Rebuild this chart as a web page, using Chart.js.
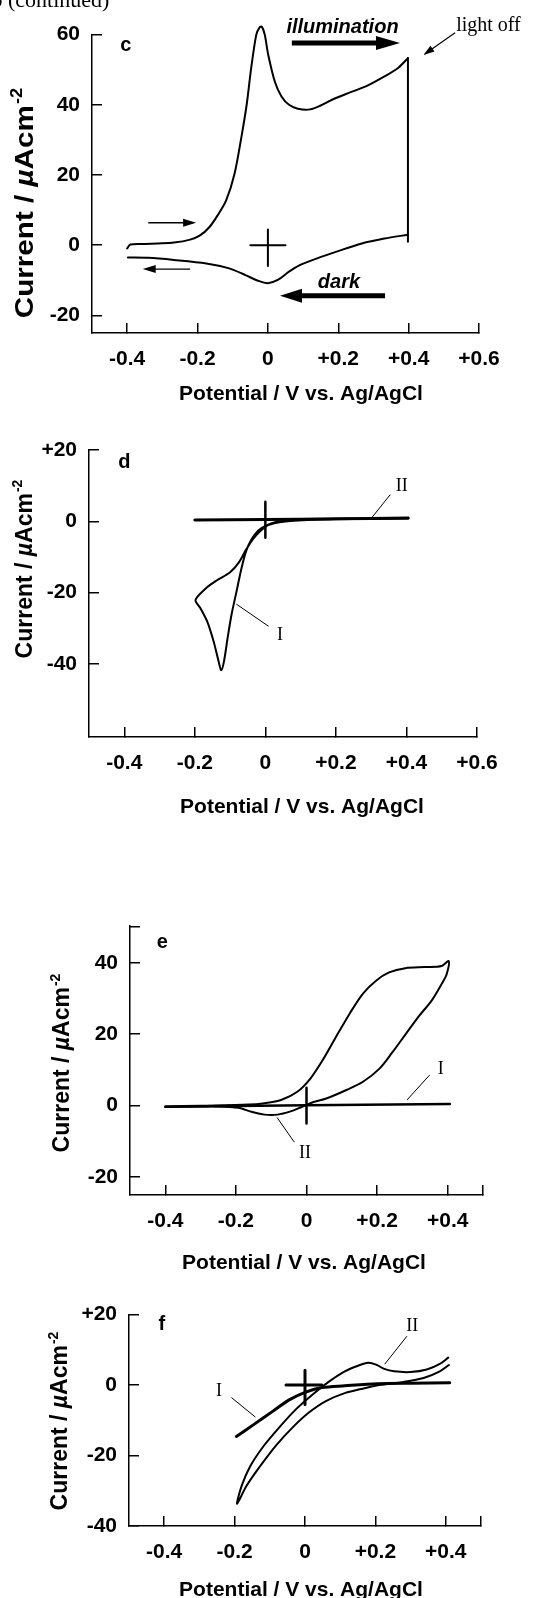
<!DOCTYPE html>
<html>
<head>
<meta charset="utf-8">
<script src="https://cdn.jsdelivr.net/npm/chart.js@4"></script>
<style>
html,body{margin:0;padding:0;background:#fff;}
#wrap{position:relative;width:533px;height:1598px;overflow:hidden;background:#fff;}
#wrap canvas{position:absolute;left:0;}
</style>
</head>
<body>
<div id="wrap">
  <canvas id="pc" width="533" height="410" style="top:0"></canvas>
  <canvas id="pd" width="533" height="410" style="top:410px"></canvas>
  <canvas id="pe" width="533" height="460" style="top:820px"></canvas>
  <canvas id="pf" width="533" height="318" style="top:1280px"></canvas>
</div>
<script>
// ---- panel c : illumination / dark sweep
const cFwdX = [-0.4, -0.391, -0.35, -0.313, -0.267, -0.221, -0.193, -0.166, -0.143, -0.119, -0.095, -0.074, -0.06, -0.0475, -0.033, -0.024, -0.0176, -0.009, 0.001, 0.02, 0.039, 0.06, 0.085, 0.12, 0.15, 0.19, 0.23, 0.28, 0.33, 0.37, 0.398];
const cFwdY = [-0.9, 0.2, 0.35, 0.5, 0.75, 1.6, 2.8, 5.2, 8.5, 12.7, 20.3, 31.6, 40.3, 50.5, 60, 62, 62.3, 60, 54.2, 46.5, 42.3, 40, 38.9, 38.7, 39.8, 41.8, 43.4, 45.3, 48, 50.5, 53.3];
const cDropX = [0.398, 0.398];
const cDropY = [53.3, 1.0];
const cRevX = [0.398, 0.331, 0.267, 0.193, 0.138, 0.092, 0.06, 0.028, 0.0, -0.028, -0.064, -0.11, -0.175, -0.267, -0.34, -0.398];
const cRevY = [3.0, 1.9, 0.5, -1.9, -3.8, -5.6, -7.5, -9.9, -10.8, -10.1, -8.5, -6.6, -5.2, -4.2, -3.6, -3.5];
const cCrossHX = [-0.05, 0.05], cCrossHY = [0, 0];
const cCrossVX = [0, 0], cCrossVY = [4.5, -5.9];
const cXTicks = [-0.4, -0.2, 0, 0.2, 0.4, 0.6];
const cXLabels = ['-0.4', '-0.2', '0', '+0.2', '+0.4', '+0.6'];
const cYTicks = [-20, 0, 20, 40, 60];
const cYLabels = ['-20', '0', '20', '40', '60'];
const cArrowIllum = [[0.068, 57.6], [0.3755, 57.6]];
const cArrowDark = [[0.333, -14.4], [0.0344, -14.4]];
const cArrowFwd = [[-0.34, 6.4], [-0.204, 6.4]];
const cArrowRev = [[-0.221, -6.8], [-0.356, -6.8]];
const cArrowOff = [[0.532, 60.5], [0.442, 54.2]];

// ---- panel d
const dIX = [0.405, 0.3, 0.2, 0.12, 0.07, 0.04, 0.02, 0.005, -0.015, -0.035, -0.055, -0.075, -0.1, -0.138, -0.17, -0.198, -0.184, -0.165, -0.147, -0.133, -0.125, -0.117, -0.107, -0.096, -0.082, -0.068, -0.055, -0.04, -0.02, 0.0, 0.03, 0.076, 0.15, 0.3, 0.405];
const dIY = [0.8, 0.7, 0.6, 0.4, 0.1, -0.3, -0.7, -1.2, -2.8, -5.0, -8.0, -11.5, -14.3, -16.6, -18.9, -22.1, -24.4, -28.1, -33.6, -39.1, -41.8, -39.1, -32.7, -26.2, -19.8, -13.3, -8.5, -5.2, -2.6, -1.3, -0.2, 0.3, 0.6, 0.8, 0.9];
const dIIX = [-0.2, 0.0, 0.2, 0.405];
const dIIY = [0.4, 0.5, 0.7, 0.9];
const dCrossVX = [0, 0], dCrossVY = [5.5, -4.6];
const dPtrI = [[0.0084, -29.4], [-0.0812, -23.3]];
const dPtrII = [[0.3534, 7.4], [0.304, 1.3]];
const dXTicks = [-0.4, -0.2, 0, 0.2, 0.4, 0.6];
const dXLabels = ['-0.4', '-0.2', '0', '+0.2', '+0.4', '+0.6'];
const dYTicks = [-40, -20, 0, 20];
const dYLabels = ['-40', '-20', '0', '+20'];

// ---- panel e
const eIX = [-0.4, 0.0, 0.406];
const eIY = [-0.3, 0.1, 0.5];
const eIIX = [-0.4, -0.3, -0.258, -0.193, -0.156, -0.119, -0.082, -0.045, -0.017, 0.011, 0.058, 0.113, 0.16, 0.206, 0.243, 0.28, 0.318, 0.355, 0.383, 0.397, 0.403, 0.383, 0.336, 0.28, 0.234, 0.197, 0.16, 0.123, 0.085, 0.048, 0.011, -0.026, -0.072, -0.119, -0.165, -0.3, -0.4];
const eIIY = [-0.3, -0.25, -0.2, -0.6, -1.7, -2.5, -2.5, -1.6, -0.5, 0.7, 2.1, 4.4, 6.7, 10.3, 14.9, 19.9, 25.0, 29.5, 34.1, 36.8, 40.5, 39.1, 38.8, 38.5, 37.3, 35.0, 31.4, 25.9, 19.5, 13.1, 7.6, 3.9, 1.6, 0.7, 0.3, 0.0, -0.2];
const eCrossVX = [0, 0], eCrossVY = [5, -5];
const ePtrI = [[0.348, 8.5], [0.2856, 1.7]];
const ePtrII = [[-0.0354, -10.1], [-0.0827, -3.4]];
const eXTicks = [-0.4, -0.2, 0, 0.2, 0.4, 0.5];
const eXLabels = ['-0.4', '-0.2', '0', '+0.2', '+0.4', ''];
const eYTicks = [-20, 0, 20, 40, 50];
const eYLabels = ['-20', '0', '20', '40', ''];

// ---- panel f
const fIX = [-0.195, -0.147, -0.091, -0.045, 0.002, 0.048, 0.113, 0.207, 0.3, 0.411];
const fIY = [-14.6, -11.3, -7.4, -4.2, -2.0, -0.7, -0.2, 0.4, 0.55, 0.65];
const fIIX = [0.407, 0.383, 0.346, 0.3, 0.253, 0.225, 0.202, 0.179, 0.151, 0.113, 0.067, 0.02, -0.026, -0.073, -0.119, -0.156, -0.18, -0.193, -0.166, -0.128, -0.082, -0.035, 0.011, 0.058, 0.113, 0.169, 0.21, 0.281, 0.337, 0.383, 0.409];
const fIIY = [7.8, 6.0, 4.4, 3.7, 3.9, 4.6, 5.8, 6.3, 5.5, 3.9, 0.9, -2.8, -6.9, -12.0, -17.5, -23.1, -28.6, -33.7, -28.6, -23.1, -17.1, -12.0, -7.8, -4.6, -2.3, -0.9, 0, 0.9, 2.0, 3.9, 5.7];
const fCrossHX = [-0.054, 0.048], fCrossHY = [0, 0];
const fCrossVX = [0, 0], fCrossVY = [4.2, -5.5];
const fPtrI = [[-0.2083, -3.6], [-0.142, -9.0]];
const fPtrII = [[0.289, 13.8], [0.227, 6.0]];
const fXTicks = [-0.4, -0.2, 0, 0.2, 0.4, 0.5];
const fXLabels = ['-0.4', '-0.2', '0', '+0.2', '+0.4', ''];
const fYTicks = [-40, -20, 0, 20];
const fYLabels = ['-40', '-20', '0', '+20'];

const FAM = '"Liberation Sans", Arial, Helvetica, sans-serif';
const SERIF = '"Liberation Serif", "Times New Roman", serif';

function line(xs, ys, w, t){
    return { data: xs.map((x,i)=>({x, y: ys[i]})), showLine:true, borderColor:'#000', borderWidth:w,
        pointRadius:0, tension:t||0, borderCapStyle:'round', borderJoinStyle:'round', fill:false, clip:false };
}
function seg(p, w){ return line([p[0][0], p[1][0]], [p[0][1], p[1][1]], w, 0); }

// annotations per canvas (arrows, free text, axis titles)
const ANNOT = {
    pc: {
        header: true,
        arrows: [
            { p: cArrowIllum, w: 5, hl: 24, hw: 7 },
            { p: cArrowDark, w: 5, hl: 22, hw: 7 },
            { p: cArrowFwd, w: 1.3, hl: 13, hw: 4 },
            { p: cArrowRev, w: 1.3, hl: 13, hw: 4 },
            { p: cArrowOff, w: 1.2, hl: 11, hw: 3.5 }
        ],
        texts: [
            { s:'illumination', x:0.212, y:62.1, font:`italic bold 20px ${FAM}` },
            { s:'dark', x:0.202, y:-10.6, font:`italic bold 20px ${FAM}` },
            { s:'light off', x:0.535, y:62.5, font:`20px ${SERIF}`, align:'left' },
            { s:'c', x:-0.404, y:57, font:`bold 20px ${FAM}` }
        ],
        yTitle: { x:24, y:203, size:26, stretch:1.14 },
        xTitle: { x:301, y:392, size:21 }
    },
    pd: {
        texts: [
            { s:'d', x:-0.4, y:16.4, font:`bold 20px ${FAM}` },
            { s:'II', x:0.3866, y:9.7, font:`18px ${SERIF}` },
            { s:'I', x:0.0415, y:-31.9, font:`18px ${SERIF}` }
        ],
        yTitle: { x:23.5, y:159, size:23, stretch:1 },
        xTitle: { x:302, y:395, size:21 }
    },
    pe: {
        texts: [
            { s:'e', x:-0.4085, y:45.6, font:`bold 20px ${FAM}` },
            { s:'I', x:0.38, y:10.3, font:`18px ${SERIF}` },
            { s:'II', x:-0.0042, y:-13.4, font:`18px ${SERIF}` }
        ],
        yTitle: { x:61, y:243, size:23, stretch:1 },
        xTitle: { x:304, y:441, size:21 }
    },
    pf: {
        texts: [
            { s:'f', x:-0.407, y:17.1, font:`bold 20px ${FAM}` },
            { s:'II', x:0.3048, y:16.6, font:`18px ${SERIF}` },
            { s:'I', x:-0.2443, y:-1.9, font:`18px ${SERIF}` }
        ],
        yTitle: { x:59, y:141, size:23, stretch:1 },
        xTitle: { x:301, y:308, size:21 }
    }
};

function drawArrow(ctx, x0, y0, x1, y1, w, hl, hw){
    const a = Math.atan2(y1-y0, x1-x0), L = Math.hypot(x1-x0, y1-y0);
    ctx.save();
    ctx.translate(x0, y0); ctx.rotate(a);
    ctx.lineWidth = w; ctx.lineCap = 'butt';
    ctx.beginPath(); ctx.moveTo(0,0); ctx.lineTo(L-hl+1,0); ctx.stroke();
    ctx.beginPath(); ctx.moveTo(L,0); ctx.lineTo(L-hl,-hw); ctx.lineTo(L-hl,hw); ctx.closePath(); ctx.fill();
    ctx.restore();
}

function drawYTitle(ctx, t){
    const s = t.size;
    const parts = [['Current / ', `bold ${s}px ${FAM}`], ['µ', `italic bold ${s}px ${FAM}`], ['Acm', `bold ${s}px ${FAM}`]];
    const sup = `bold ${Math.round(s*0.62)}px ${FAM}`;
    ctx.save();
    ctx.translate(t.x, t.y); ctx.rotate(-Math.PI/2); ctx.scale(t.stretch, 1);
    let w = 0;
    parts.forEach(p=>{ ctx.font = p[1]; w += ctx.measureText(p[0]).width; });
    ctx.font = sup; const sw = ctx.measureText('-2').width;
    let xx = -(w + sw + 1)/2; const base = s*0.36;
    ctx.textAlign = 'left'; ctx.textBaseline = 'alphabetic';
    parts.forEach(p=>{ ctx.font = p[1]; ctx.fillText(p[0], xx, base); xx += ctx.measureText(p[0]).width; });
    ctx.font = sup; ctx.fillText('-2', xx+1, base - s*0.42);
    ctx.restore();
}

const annot = {
    id: 'annot',
    afterDatasetsDraw(chart){
        const o = ANNOT[chart.canvas.id];
        if (!o) return;
        const {ctx} = chart, sx = chart.scales.x, sy = chart.scales.y;
        const px = v => sx.getPixelForValue(v), py = v => sy.getPixelForValue(v);
        ctx.save();
        ctx.fillStyle = '#000'; ctx.strokeStyle = '#000';
        (o.arrows||[]).forEach(a => drawArrow(ctx, px(a.p[0][0]), py(a.p[0][1]), px(a.p[1][0]), py(a.p[1][1]), a.w, a.hl, a.hw));
        (o.texts||[]).forEach(t => {
            ctx.font = t.font; ctx.textAlign = t.align || 'center'; ctx.textBaseline = 'middle';
            ctx.fillText(t.s, px(t.x), py(t.y));
        });
        drawYTitle(ctx, o.yTitle);
        ctx.font = `bold ${o.xTitle.size}px ${FAM}`; ctx.textAlign = 'center'; ctx.textBaseline = 'alphabetic';
        ctx.fillText('Potential / V vs. Ag/AgCl', o.xTitle.x, o.xTitle.y + o.xTitle.size*0.36);
        if (o.header){
            ctx.font = `22px ${SERIF}`; ctx.textAlign = 'left';
            ctx.fillText('b (continued)', -8.5, 7);
        }
        ctx.restore();
    }
};

function axis(min, max, ticks, labels, pad, fit){
    return {
        type:'linear', min, max, afterFit: fit,
        afterBuildTicks: s => { s.ticks = ticks.map(v => ({value:v})); },
        border:{ display:true, color:'#000', width:1.5 },
        grid:{ drawOnChartArea:false, drawTicks:true, tickLength:-10, color:'#000', lineWidth:1.5 },
        ticks:{ autoSkip:false, maxRotation:0, minRotation:0, padding:pad, color:'#000',
            font:{ family:FAM, weight:'bold', size:21 },
            callback: v => { const i = ticks.indexOf(v); return i < 0 ? '' : labels[i]; } }
    };
}

function panel(id, o){
    return new Chart(document.getElementById(id), {
        type:'scatter',
        data:{ datasets:o.sets },
        options:{
            responsive:false, animation:false, events:[],
            layout:{ padding:{ left:0, top:o.top, right:o.right, bottom:0 } },
            plugins:{ legend:{display:false}, tooltip:{enabled:false} },
            scales:{
                x: axis(o.xr[0], o.xr[1], o.xt, o.xl, 24, s => { s.height = o.xH; }),
                y: axis(o.yr[0], o.yr[1], o.yt, o.yl, 22, s => { s.width = o.yW; })
            }
        },
        plugins:[annot]
    });
}

panel('pc', {
    top:31, right:54, xH:77, yW:92, xr:[-0.5,0.6], yr:[-25,60],
    xt:cXTicks, xl:cXLabels, yt:cYTicks, yl:cYLabels,
    sets:[ line(cFwdX, cFwdY, 2, 0.3), line(cDropX, cDropY, 2), line(cRevX, cRevY, 2, 0.3),
        line(cCrossHX, cCrossHY, 2), line(cCrossVX, cCrossVY, 2) ]
});
panel('pd', {
    top:40, right:56, xH:83, yW:89, xr:[-0.5,0.6], yr:[-60.5,20],
    xt:dXTicks, xl:dXLabels, yt:dYTicks, yl:dYLabels,
    sets:[ line(dIIX, dIIY, 3, 0.3), line(dIX, dIY, 2, 0.3), line(dCrossVX, dCrossVY, 2.5),
        seg(dPtrI, 1), seg(dPtrII, 1) ]
});
panel('pe', {
    top:106, right:50, xH:85, yW:130, xr:[-0.5,0.5], yr:[-25,50.3],
    xt:eXTicks, xl:eXLabels, yt:eYTicks, yl:eYLabels,
    sets:[ line(eIX, eIY, 2.5), line(eIIX, eIIY, 2, 0.3), line(eCrossVX, eCrossVY, 2.5),
        seg(ePtrI, 1), seg(ePtrII, 1) ]
});
panel('pf', {
    top:33, right:52, xH:72, yW:129, xr:[-0.5,0.5], yr:[-40,20],
    xt:fXTicks, xl:fXLabels, yt:fYTicks, yl:fYLabels,
    sets:[ line(fIX, fIY, 3, 0.3), line(fIIX, fIIY, 2, 0.3), line(fCrossHX, fCrossHY, 3), line(fCrossVX, fCrossVY, 3),
        seg(fPtrI, 1), seg(fPtrII, 1) ]
});
</script>
</body>
</html>
